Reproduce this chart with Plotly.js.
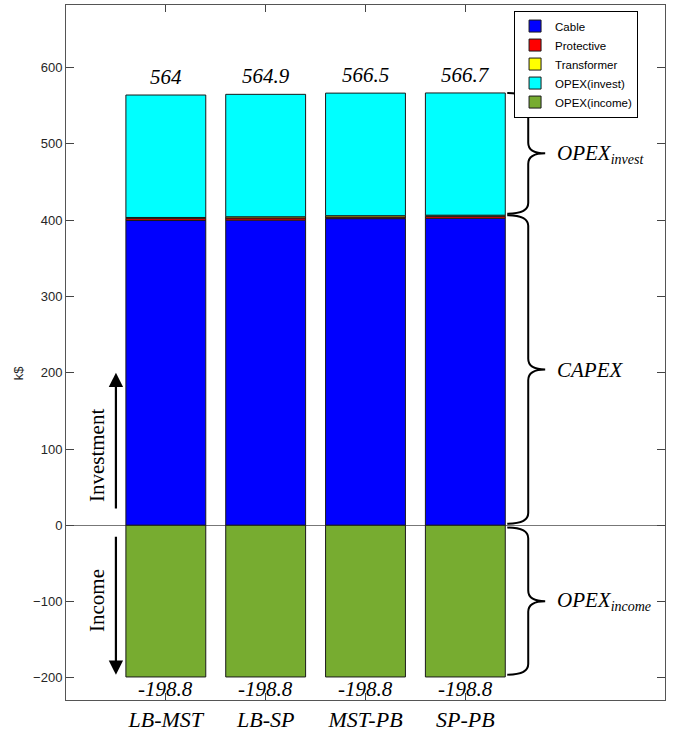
<!DOCTYPE html>
<html>
<head>
<meta charset="utf-8">
<script src="https://cdn.plot.ly/plotly-3.0.1.min.js"></script>
<style>html,body{margin:0;padding:0;background:#fff;}#chart{width:675px;height:733px;}</style>
</head>
<body>
<div id="chart"></div>
<script>
// ---- data ----
const categories = ["LB-MST", "LB-SP", "MST-PB", "SP-PB"];
const cable       = [399.5, 400.0, 402.0, 402.5];
const protective  = [2.5, 2.8, 2.0, 2.5];
const transformer = [1.5, 1.6, 1.8, 1.5];
const opexInvest  = [160.5, 160.5, 160.7, 160.2];
const opexIncome  = [-198.8, -198.8, -198.8, -198.8];
const topLabels    = ["564", "564.9", "566.5", "566.7"];
const bottomLabels = ["-198.8", "-198.8", "-198.8", "-198.8"];
const yTicks = [-200, -100, 0, 100, 200, 300, 400, 500, 600];

const xPos = categories.map((c, i) => i);
const totals = xPos.map(i => cable[i] + protective[i] + transformer[i] + opexInvest[i]);
const capexTop = Math.max(...xPos.map(i => cable[i] + protective[i] + transformer[i]));
const investTop = Math.max(...totals);
const incomeBottom = Math.min(...opexIncome);

const outline = {color: '#1a1a1a', width: 1};
function barTrace(name, y, color) {
  return {type: 'bar', name: name, x: xPos, y: y, width: 0.8,
          marker: {color: color, line: outline}, hoverinfo: 'y+name'};
}
const traces = [
  barTrace('Cable', cable, '#0000FF'),
  barTrace('Protective', protective, '#FF0000'),
  barTrace('Transformer', transformer, '#FFFF00'),
  barTrace('OPEX(invest)', opexInvest, '#00FFFF'),
  barTrace('OPEX(income)', opexIncome, '#77AC30')
];

const serif = 'Liberation Serif, Times New Roman, serif';
const sans = 'Liberation Sans, Arial, sans-serif';

const annotations = [];
xPos.forEach(i => {
  annotations.push({x: i, y: totals[i], xref: 'x', yref: 'y', text: '<i>' + topLabels[i] + '</i>',
    showarrow: false, yanchor: 'bottom', yshift: 4, font: {family: serif, size: 21, color: '#000'}});
  annotations.push({x: i, y: opexIncome[i], xref: 'x', yref: 'y', text: '<i>' + bottomLabels[i] + '</i>',
    showarrow: false, yanchor: 'top', yshift: 2, font: {family: serif, size: 21, color: '#000'}});
});

// brace labels
const braceX0 = 3.42, braceX1 = 3.63, braceX2 = 3.80;
const labelX = 3.90;
const subStyle = '<span style="font-size:14px">';
annotations.push({x: labelX, y: (investTop + capexTop) / 2, xref: 'x', yref: 'y', xanchor: 'left',
  text: '<i>OPEX<sub>' + subStyle + 'invest</span></sub></i>', showarrow: false, font: {family: serif, size: 21, color: '#000'}});
annotations.push({x: labelX, y: capexTop / 2, xref: 'x', yref: 'y', xanchor: 'left',
  text: '<i>CAPEX</i>', showarrow: false, font: {family: serif, size: 21, color: '#000'}});
annotations.push({x: labelX, y: incomeBottom / 2, xref: 'x', yref: 'y', xanchor: 'left',
  text: '<i>OPEX<sub>' + subStyle + 'income</span></sub></i>', showarrow: false, font: {family: serif, size: 21, color: '#000'}});

// left side text + arrows
annotations.push({x: -0.69, y: 92, xref: 'x', yref: 'y', text: 'Investment', textangle: -90,
  showarrow: false, font: {family: serif, size: 21, color: '#000'}});
annotations.push({x: -0.69, y: -98, xref: 'x', yref: 'y', text: 'Income', textangle: -90,
  showarrow: false, font: {family: serif, size: 21, color: '#000'}});
annotations.push({x: -0.5, y: 200, ax: -0.5, ay: 20, xref: 'x', yref: 'y', axref: 'x', ayref: 'y',
  text: '', showarrow: true, arrowhead: 2, arrowsize: 1.3, arrowwidth: 2.2, arrowcolor: '#000'});
annotations.push({x: -0.5, y: -196, ax: -0.5, ay: -13, xref: 'x', yref: 'y', axref: 'x', ayref: 'y',
  text: '', showarrow: true, arrowhead: 2, arrowsize: 1.3, arrowwidth: 2.2, arrowcolor: '#000'});

// y label
annotations.push({x: -0.066, y: 200, xref: 'paper', yref: 'y', xanchor: 'center', text: 'k$', textangle: -90,
  showarrow: false, xshift: -8, font: {family: sans, size: 13, color: '#262626'}});

// braces
function brace(top, bottom) {
  const d = 14; // y units for curl
  const mid = (top + bottom) / 2;
  const p = 'M ' + braceX0 + ',' + top +
    ' Q ' + braceX1 + ',' + top + ' ' + braceX1 + ',' + (top - d) +
    ' L ' + braceX1 + ',' + (mid + d) +
    ' Q ' + braceX1 + ',' + mid + ' ' + braceX2 + ',' + mid +
    ' Q ' + braceX1 + ',' + mid + ' ' + braceX1 + ',' + (mid - d) +
    ' L ' + braceX1 + ',' + (bottom + d) +
    ' Q ' + braceX1 + ',' + bottom + ' ' + braceX0 + ',' + bottom;
  return {type: 'path', xref: 'x', yref: 'y', path: p, line: {color: '#000', width: 2}};
}
const shapes = [
  brace(investTop, capexTop + 2),
  brace(capexTop, 2),
  brace(-3, incomeBottom + 3)
];

const layout = {
  width: 675, height: 733,
  margin: {l: 66, r: 10, t: 5, b: 33},
  paper_bgcolor: '#fff', plot_bgcolor: '#fff',
  barmode: 'relative',
  bargap: 0.2,
  showlegend: true,
  legend: {x: 0.748, y: 0.992, xanchor: 'left', yanchor: 'top', traceorder: 'normal',
    bgcolor: '#fff', bordercolor: '#000', borderwidth: 1,
    font: {family: sans, size: 11.5, color: '#000'}, tracegroupgap: 0},
  xaxis: {range: [-1, 5], tickvals: xPos, ticktext: categories.map(c => '<i>' + c + '</i>'),
    ticks: 'inside', ticklen: 7, tickcolor: '#444', showline: true, linecolor: '#555', linewidth: 1,
    mirror: 'ticks', showgrid: false, zeroline: false,
    tickfont: {family: serif, size: 22, color: '#000'}},
  yaxis: {range: [-229, 682], tickvals: yTicks, ticks: 'inside', ticklen: 8, tickcolor: '#444',
    showline: true, linecolor: '#555', linewidth: 1, mirror: 'ticks', showgrid: false,
    zeroline: true, zerolinecolor: '#777', zerolinewidth: 1,
    tickfont: {family: sans, size: 13, color: '#262626'}},
  annotations: annotations,
  shapes: shapes
};

Plotly.newPlot('chart', traces, layout, {displayModeBar: false, staticPlot: true});
</script>
</body>
</html>
